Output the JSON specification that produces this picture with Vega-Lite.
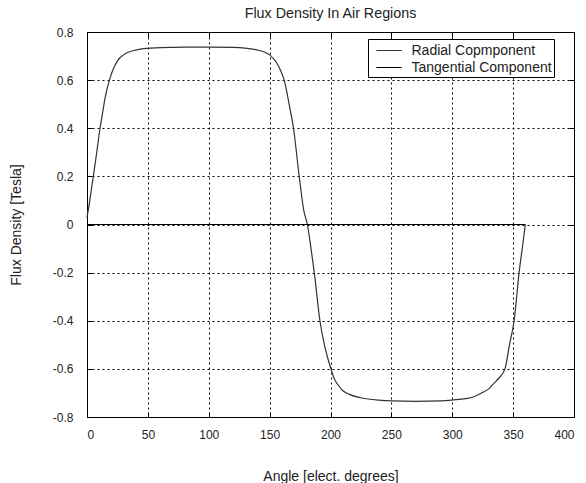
{
  "$schema": "https://vega.github.io/schema/vega-lite/v6.json",
  "width": 487,
  "height": 385,
  "autosize": {"type": "none"},
  "padding": {"left": 87, "top": 32, "right": 12, "bottom": 66},
  "background": "white",
  "title": {"text": "Flux Density In Air Regions", "fontSize": 14.3, "font": "Liberation Sans", "fontWeight": "normal", "color": "#222", "offset": 5},
  "config": {
    "view": {"stroke": "#000", "strokeWidth": 1},
    "axis": {
      "labelFont": "Liberation Sans", "titleFont": "Liberation Sans",
      "labelFontSize": 12, "titleFontSize": 14, "titleFontWeight": "normal",
      "labelColor": "#222", "titleColor": "#222",
      "domainColor": "#000", "tickColor": "#000", "tickSize": -5,
      "gridColor": "#000", "gridOpacity": 1, "gridDash": [2, 3], "gridWidth": 1
    }
  },
  "resolve": {"axis": {"x": "independent", "y": "independent"}},
  "datasets": {
    "radial": [
      {"angle": 0, "b": 0.03}, {"angle": 2, "b": 0.09}, {"angle": 4, "b": 0.16}, {"angle": 5.2, "b": 0.2},
      {"angle": 8, "b": 0.3}, {"angle": 10.7, "b": 0.4}, {"angle": 13, "b": 0.47}, {"angle": 15, "b": 0.53},
      {"angle": 18.4, "b": 0.6}, {"angle": 21.5, "b": 0.645}, {"angle": 25, "b": 0.68}, {"angle": 30, "b": 0.705},
      {"angle": 35, "b": 0.718}, {"angle": 40, "b": 0.725}, {"angle": 50, "b": 0.732}, {"angle": 60, "b": 0.735},
      {"angle": 80, "b": 0.737}, {"angle": 100, "b": 0.737}, {"angle": 120, "b": 0.736}, {"angle": 130, "b": 0.733},
      {"angle": 140, "b": 0.725}, {"angle": 145, "b": 0.718}, {"angle": 150, "b": 0.705}, {"angle": 153, "b": 0.69},
      {"angle": 156, "b": 0.67}, {"angle": 159, "b": 0.64}, {"angle": 162, "b": 0.6}, {"angle": 166, "b": 0.5},
      {"angle": 169.6, "b": 0.4}, {"angle": 174.3, "b": 0.2}, {"angle": 178, "b": 0.06}, {"angle": 181, "b": 0},
      {"angle": 184, "b": -0.1}, {"angle": 186.7, "b": -0.2}, {"angle": 191.3, "b": -0.4}, {"angle": 195, "b": -0.5},
      {"angle": 198, "b": -0.56}, {"angle": 200.4, "b": -0.6}, {"angle": 203, "b": -0.64}, {"angle": 206, "b": -0.665},
      {"angle": 210, "b": -0.69}, {"angle": 215, "b": -0.705}, {"angle": 225, "b": -0.72}, {"angle": 240, "b": -0.73},
      {"angle": 250, "b": -0.733}, {"angle": 270, "b": -0.735}, {"angle": 291, "b": -0.733}, {"angle": 305, "b": -0.727},
      {"angle": 316, "b": -0.719}, {"angle": 324, "b": -0.7}, {"angle": 330, "b": -0.683}, {"angle": 335, "b": -0.656},
      {"angle": 338, "b": -0.64}, {"angle": 343.3, "b": -0.6}, {"angle": 347, "b": -0.5}, {"angle": 350.8, "b": -0.4},
      {"angle": 354.9, "b": -0.2}, {"angle": 358, "b": -0.08}, {"angle": 360, "b": 0}
    ],
    "tangential": [
      {"angle": 0, "b": 0}, {"angle": 360, "b": 0}
    ]
  },
  "layer": [
    {
      "data": {"name": "radial"},
      "transform": [{"calculate": "'Radial Copmponent'", "as": "component"}],
      "mark": {"type": "line", "strokeWidth": 1.2, "interpolate": "monotone"},
      "encoding": {
        "x": {"field": "angle", "type": "quantitative", "scale": {"domain": [0, 400], "nice": false},
          "axis": {"title": "Angle [elect. degrees]", "values": [0, 50, 100, 150, 200, 250, 300, 350, 400], "labelPadding": 17, "titlePadding": 29, "orient": "bottom"}},
        "y": {"field": "b", "type": "quantitative", "scale": {"domain": [-0.8, 0.8], "nice": false},
          "axis": {"title": "Flux Density [Tesla]", "values": [-0.8, -0.6, -0.4, -0.2, 0, 0.2, 0.4, 0.6, 0.8], "labelPadding": 19, "titlePadding": 29,
            "labelExpr": "datum.value == 0 ? '0' : toString(round(datum.value * 10) / 10)"}},
        "color": {"field": "component", "type": "nominal",
          "scale": {"domain": ["Radial Copmponent", "Tangential Component"], "range": ["#333333", "#000000"]},
          "legend": {"title": null, "orient": "none", "legendX": 281, "legendY": 7, "strokeColor": "#000", "fillColor": "white",
            "padding": 2, "labelFont": "Liberation Sans", "labelFontSize": 14, "labelColor": "#222", "labelOffset": 13, "labelLimit": 400,
            "labelExpr": "datum.label + '\u2007\u2007'",
            "symbolType": "M-1.4,0H1.4", "symbolSize": 324, "symbolOffset": 9.5, "symbolStrokeWidth": 1, "symbolStrokeColor": "#000", "rowPadding": 0, "cornerRadius": 0}}
      }
    },
    {
      "data": {"name": "tangential"},
      "transform": [{"calculate": "'Tangential Component'", "as": "component"}],
      "mark": {"type": "line", "strokeWidth": 1.2},
      "encoding": {
        "x": {"field": "angle", "type": "quantitative",
          "axis": {"orient": "top", "title": null, "labels": false, "grid": false, "domain": false, "values": [0, 50, 100, 150, 200, 250, 300, 350, 400]}},
        "y": {"field": "b", "type": "quantitative",
          "axis": {"orient": "right", "title": null, "labels": false, "grid": false, "domain": false, "values": [-0.8, -0.6, -0.4, -0.2, 0, 0.2, 0.4, 0.6, 0.8]}},
        "color": {"field": "component", "type": "nominal"}
      }
    }
  ]
}
